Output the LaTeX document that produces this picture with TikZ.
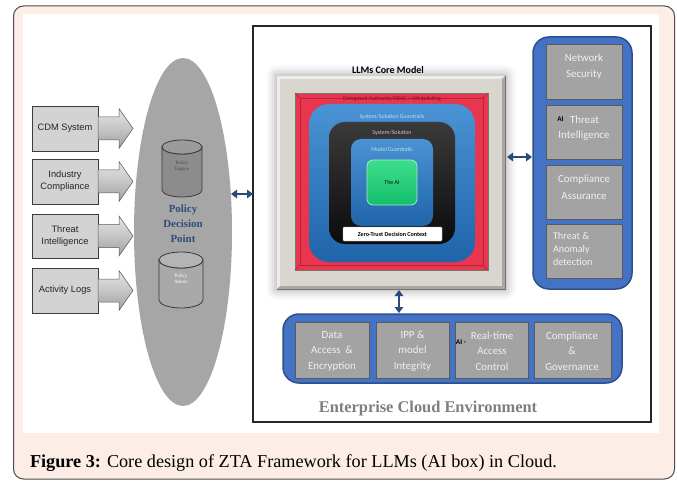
\documentclass[tikz,border=0pt]{standalone}
\usepackage{fontspec}
\setmainfont{Liberation Serif}
\newfontfamily\calibrifont{Carlito}
\newfontfamily\arialfont{Liberation Sans}
\usetikzlibrary{shapes.geometric,arrows.meta,calc}

\definecolor{cardfill}{HTML}{FCEDE6}
\definecolor{cardline}{HTML}{4D4D4D}
\definecolor{pdpgray}{HTML}{A6A6A6}
\definecolor{srcfill}{HTML}{D3D3D3}
\definecolor{srcline}{HTML}{3C3C3C}
\definecolor{pdpblue}{HTML}{2E4D7B}
\definecolor{navy}{HTML}{2B4A7C}
\definecolor{panelblue}{HTML}{4472C4}
\definecolor{panelline}{HTML}{2F4F8A}
\definecolor{cellgray}{HTML}{A3A3A3}
\definecolor{cellline}{HTML}{5A5A5A}
\definecolor{celltext}{HTML}{F0F0F0}
\definecolor{framefill}{HTML}{D8D6CE}
\definecolor{framelight}{HTML}{EEEDE8}
\definecolor{framedark}{HTML}{A9A7A0}
\definecolor{matred}{HTML}{E8364F}
\definecolor{matdark}{HTML}{B92339}
\definecolor{mattext}{HTML}{7B1426}
\definecolor{guardtop}{HTML}{4A93D4}
\definecolor{guardbot}{HTML}{2064AA}
\definecolor{guardtext}{HTML}{C4DCF2}
\definecolor{systop}{HTML}{3A3A3A}
\definecolor{sysbot}{HTML}{0B0B0B}
\definecolor{aitop}{HTML}{3EDD8E}
\definecolor{aibot}{HTML}{14BF6A}
\definecolor{envgray}{HTML}{7F7F7F}
\definecolor{engbody}{HTML}{8C8C8C}
\definecolor{engtop}{HTML}{9B9B9B}
\definecolor{admbody}{HTML}{A9A9A9}
\definecolor{admtop}{HTML}{B4B4B4}
\definecolor{cylline}{HTML}{3A3A3A}

\begin{document}
\begin{tikzpicture}[x=1pt,y=-1pt,
  every node/.style={inner sep=0pt,outer sep=0pt},
  srcbox/.style={draw=srcline,line width=0.8pt,fill=srcfill,minimum width=66pt,
    minimum height=45pt,align=center,text=black!85,
    font=\arialfont\fontsize{9.3}{12}\selectfont},
  feed/.style={draw=black!65,line width=0.5pt,top color=gray!20,bottom color=gray!75,
    middle color=gray!45},
  cell/.style={draw=cellline,line width=0.8pt,fill=cellgray},
  celltxt/.style={text=celltext,font=\calibrifont\fontsize{10.9}{16.5}\selectfont},
  celltxtb/.style={text=celltext,font=\calibrifont\fontsize{10.9}{15.5}\selectfont},
  aitag/.style={text=black,font=\calibrifont\bfseries\fontsize{7.2}{8}\selectfont},
  dbl/.style={navy,line width=2.4pt,
    {Triangle[length=6pt,width=8.5pt]}-{Triangle[length=6pt,width=8.5pt]}},
  lbl/.style={font=\calibrifont\fontsize{5.9}{7}\selectfont},
  cyltxt/.style={align=center,font=\fontsize{5}{6}\selectfont}]
\useasboundingbox (0,0) rectangle (677,481);

% card and white figure area
\draw[cardline,line width=1pt,fill=cardfill,rounded corners=10pt] (13.5,6) rectangle (674.5,479);
\fill[white] (23,14) rectangle (659,433);

% enterprise cloud environment
\node[draw=black!85,line width=1.1pt,fill=white,minimum width=398pt,minimum height=396pt] (ece) at (452,224) {};
\node[font=\bfseries\fontsize{16.4}{18}\selectfont,text=envgray] (envlbl) at (428,409) {Enterprise Cloud Environment};

% policy decision point
\node[ellipse,fill=pdpgray,minimum width=98pt,minimum height=348pt] (pdp) at (183,232) {};
\node[align=center,text=pdpblue,font=\bfseries\fontsize{10.9}{15}\selectfont] (pdplbl) at (183,224) {Policy\\Decision\\Point};

% policy engine cylinder
\filldraw[fill=engbody,draw=cylline,line width=0.8pt] (162,147) -- (162,190)
  arc[start angle=180,end angle=0,x radius=20,y radius=7] -- (202,147)
  arc[start angle=0,end angle=180,x radius=20,y radius=7] -- cycle;
\filldraw[fill=engtop,draw=cylline,line width=0.8pt] (182,147) ellipse[x radius=20,y radius=7];
\node[cyltxt,text=black!70] (engtxt) at (182,166) {Policy\\Engine};

% policy admin cylinder
\filldraw[fill=admbody,draw=cylline,line width=0.8pt] (159,260) -- (159,300)
  arc[start angle=180,end angle=0,x radius=22,y radius=8] -- (203,260)
  arc[start angle=0,end angle=180,x radius=22,y radius=8] -- cycle;
\filldraw[fill=admtop,draw=cylline,line width=0.8pt] (181,260) ellipse[x radius=22,y radius=8];
\node[cyltxt,text=white] (admtxt) at (181,279) {Policy\\Admin};

% input sources with feed arrows
\node[srcbox] (src1) at (65,128.5) {CDM System};
\node[srcbox] (src2) at (65,181.5) {Industry\\Compliance};
\node[srcbox,minimum height=44pt] (src3) at (65,236) {Threat\\Intelligence};
\node[srcbox] (src4) at (65,290.5) {Activity Logs};
\foreach \i in {1,...,4}
  \path[feed] ($(src\i.east)+(0,-11.5)$) -- ++(21,0) -- ++(0,-8.5) -- ++(14,20)
    -- ++(-14,20) -- ++(0,-8.5) -- ++(-21,0) -- cycle;

% LLM core model: soft shadow, bevelled frame, mat and nested layers
\foreach \d/\o in {11/0.018,9/0.022,7/0.03,5/0.038,3/0.045,1.5/0.055}
  \fill[black,opacity=\o,rounded corners=\d pt] (277-\d,76-\d) rectangle (505+\d,289+\d);
\node[font=\calibrifont\bfseries\fontsize{10}{12}\selectfont] (corelbl) at (388,70) {LLMs Core Model};
\node[fill=framefill,minimum width=228pt,minimum height=213pt] (cframe) at (391,182.5) {};
\fill[framelight] (cframe.north west) -- (cframe.north east) -- ($(cframe.north east)+(-3,3)$) -- ($(cframe.north west)+(3,3)$) -- cycle;
\fill[framelight] (cframe.north west) -- ($(cframe.north west)+(3,3)$) -- ($(cframe.south west)+(3,-3)$) -- (cframe.south west) -- cycle;
\fill[framedark] (cframe.south east) -- ($(cframe.south east)+(-3,-3)$) -- ($(cframe.south west)+(3,-3)$) -- (cframe.south west) -- cycle;
\fill[framedark] (cframe.south east) -- ($(cframe.south east)+(-3,-3)$) -- ($(cframe.north east)+(-3,3)$) -- (cframe.north east) -- cycle;
\draw[black!55,line width=0.8pt] (cframe.north east) -- (cframe.south east) -- (cframe.south west);

\node[fill=matred,draw=framedark!70!black,line width=0.5pt,minimum width=193pt,minimum height=177pt] (mat) at (391.5,181.5) {};
\draw[matdark,line width=0.6pt] ($(mat.north west)+(5,5)$) rectangle ($(mat.south east)+(-5,-5)$);
\draw[matdark,line width=0.4pt] (mat.north west) -- ++(5,5) (mat.north east) -- ++(-5,5)
  (mat.south west) -- ++(5,-5) (mat.south east) -- ++(-5,-5);
\node[lbl,text=mattext] (matlbl) at (392,99) {Delegated Authority/RBAC + Whitelisting};

\node[rounded corners=20pt,top color=guardtop,bottom color=guardbot,minimum width=166pt,minimum height=158pt] (sysguard) at (392,183) {};
\node[lbl,text=guardtext] (sysguardlbl) at (392,117) {System/Solution Guardrails};
\node[rounded corners=16pt,top color=systop,bottom color=sysbot,minimum width=126pt,minimum height=122pt] (sys) at (392,183) {};
\node[lbl,text=black!20] (syslbl) at (392,133) {System/Solution};
\node[rounded corners=10pt,top color=guardtop,bottom color=guardbot,minimum width=82pt,minimum height=87pt] (modguard) at (392,182.5) {};
\node[lbl,text=guardtext] (modguardlbl) at (392,149) {Model Guardrails};
\node[rounded corners=6pt,top color=aitop,bottom color=aibot,draw=aitop!50!white,line width=0.8pt,
  minimum width=50pt,minimum height=45pt,font=\calibrifont\fontsize{5.9}{7}\selectfont,text=black!75!green!40!black] (ai) at (392,182.5) {The AI};
\node[fill=white,draw=gray!60,line width=0.4pt,rounded corners=1pt,minimum width=99pt,minimum height=14pt,
  font=\calibrifont\bfseries\fontsize{6.1}{7}\selectfont] (ztd) at (392.5,234) {Zero-Trust Decision Context};

% right security panel
\node[draw=panelline,line width=1.5pt,fill=panelblue,rounded corners=16pt,minimum width=99pt,minimum height=252pt] (rp) at (582.5,163) {};
\node[cell,minimum width=76pt,minimum height=55pt] (ns) at (584,71.5) {};
\node[cell,minimum width=76pt,minimum height=54pt] (ti) at (584,132) {};
\node[cell,minimum width=76pt,minimum height=54pt] (ca) at (584,192) {};
\node[cell,minimum width=76pt,minimum height=54pt] (ta) at (584,251) {};
\node[celltxt,align=center] (nstxt) at (584,66.5) {Network\\Security};
\node[aitag] (tiai) at (560.5,119) {AI};
\node[celltxt,anchor=west] (titxt) at (570,119.5) {Threat};
\node[celltxt] (titxt2) at (584,136) {Intelligence};
\node[celltxt,align=center] (catxt) at (584,187.5) {Compliance\\Assurance};
\node[celltxt,align=left,anchor=west,font=\calibrifont\fontsize{10.2}{13}\selectfont] (tatxt) at (553,249) {Threat \&\\Anomaly\\detection};

% bottom data panel
\node[draw=panelline,line width=1.5pt,fill=panelblue,rounded corners=16pt,minimum width=339pt,minimum height=69pt] (bp) at (452.5,348.5) {};
\node[cell,minimum width=74pt,minimum height=56pt] (dae) at (332,350) {};
\node[cell,minimum width=73pt,minimum height=56pt] (ipp) at (412.5,350) {};
\node[cell,minimum width=73pt,minimum height=56pt] (rac) at (491.5,350) {};
\node[cell,minimum width=77pt,minimum height=56pt] (cg) at (572.5,350) {};
\node[celltxtb,align=center] (daetxt) at (332,351) {Data\\Access\ \ \&\\Encryption};
\node[celltxtb,align=center] (ipptxt) at (412.5,351) {IPP \&\\model\\Integrity};
\node[celltxtb,align=center] (ractxt) at (492,351) {Real-time\\Access\\Control};
\node[aitag] (racai) at (461,342) {AI -};
\node[celltxtb,align=center] (cgtxt) at (572,351) {Compliance\\\&\\Governance};

% two-way links
\coordinate (p1) at ($(pdp.east)+(-1,-38)$);
\draw[dbl] (p1) -- (p1 -| ece.west);
\coordinate (p2) at ($(cframe.east)+(2,-25.5)$);
\draw[dbl,shorten >=1pt] (p2) -- (p2 -| rp.west);
\coordinate (p3) at ($(cframe.south)+(8,1)$);
\draw[dbl,shorten >=1pt] (p3) -- (p3 |- bp.north);

% caption
\node[anchor=base west,font=\fontsize{18.2}{20}\selectfont] (cap) at (30,467.5)
  {\textbf{Figure 3:} Core design of ZTA Framework for LLMs (AI box) in Cloud.};
\end{tikzpicture}
\end{document}
